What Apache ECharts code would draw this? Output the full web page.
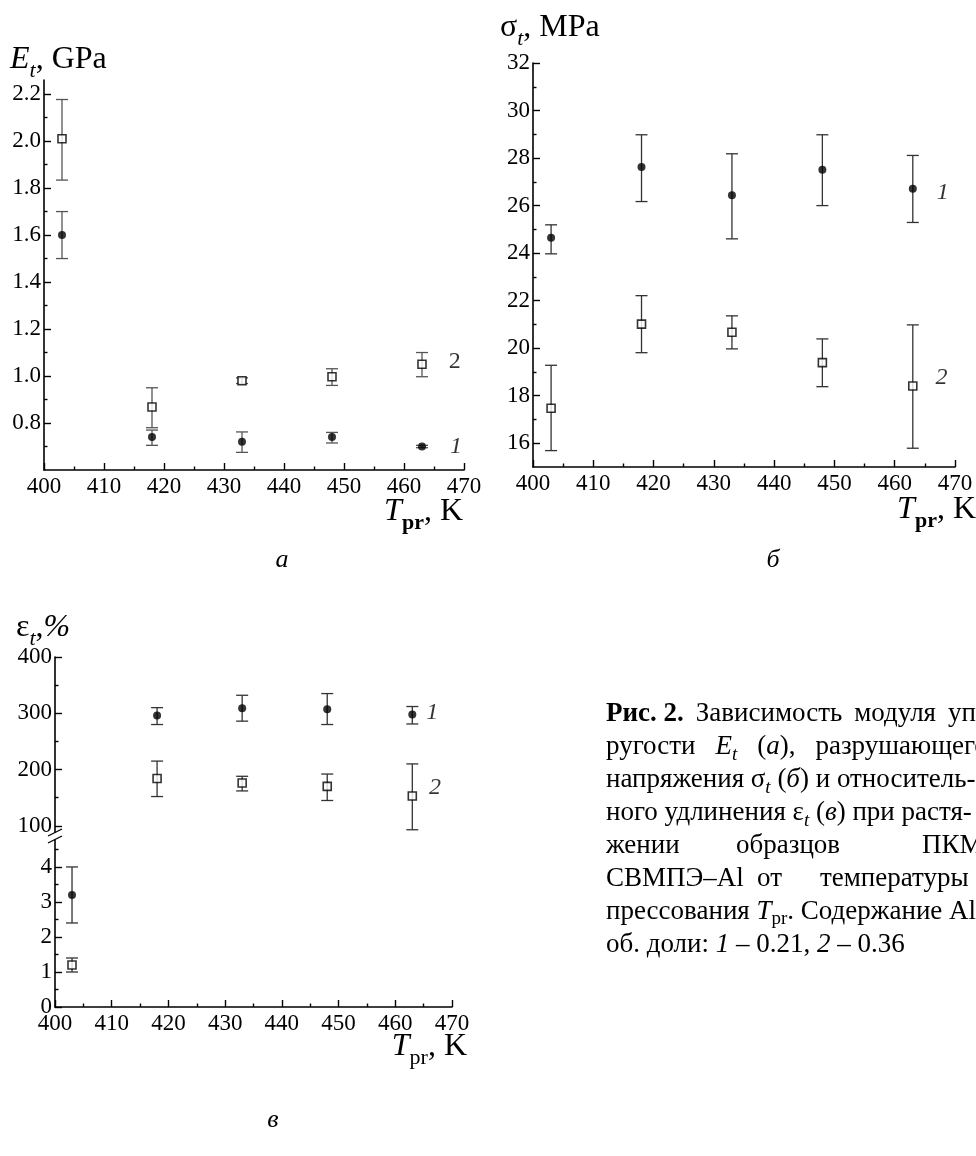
<!DOCTYPE html>
<html><head><meta charset="utf-8">
<script src="https://cdn.jsdelivr.net/npm/echarts@6.0.0/dist/echarts.min.js"></script>
<style>html,body{margin:0;padding:0;background:#fff}#c{width:976px;height:1156px}</style>
</head><body><div id="c"></div>
<script>
// ---- data ----
const temps = [403, 418, 433, 448, 463];
// (а) E_t, GPa
const E1 = [1.60, 0.74, 0.72, 0.74, 0.70];
const E1lo = [1.50, 0.705, 0.675, 0.715, 0.695];
const E1hi = [1.70, 0.77, 0.762, 0.76, 0.705];
const E2 = [2.01, 0.868, 0.98, 0.997, 1.05];
const E2lo = [1.834, 0.78, 0.968, 0.96, 0.997];
const E2hi = [2.177, 0.95, 0.992, 1.031, 1.10];
const ETicks = [0.8, 1.0, 1.2, 1.4, 1.6, 1.8, 2.0, 2.2];
const EMinor = [0.7, 0.9, 1.1, 1.3, 1.5, 1.7, 1.9, 2.1];
// (б) sigma_t, MPa
const S1 = [24.65, 27.62, 26.43, 27.51, 26.71];
const S1lo = [23.97, 26.17, 24.6, 26.0, 25.29];
const S1hi = [25.19, 28.98, 28.18, 28.98, 28.11];
const S2 = [17.47, 21.01, 20.67, 19.39, 18.41];
const S2lo = [15.69, 19.81, 19.97, 18.38, 15.79];
const S2hi = [19.28, 22.21, 21.36, 20.39, 20.98];
const STicks = [16, 18, 20, 22, 24, 26, 28, 30, 32];
const SMinor = [17, 19, 21, 23, 25, 27, 29, 31];
// (в) eps_t, %
const P1 = [3.2, 296, 309, 307, 298];
const P1lo = [2.4, 280, 286, 280, 281];
const P1hi = [4.0, 310, 332, 335, 312];
const P2 = [1.2, 184, 176, 170, 153];
const P2lo = [1.0, 152, 162, 145, 93];
const P2hi = [1.4, 215, 188, 192, 210];
const PTicksHigh = [100, 200, 300, 400];
const PMinorHigh = [150, 250, 350];
const PTicksLow = [0, 1, 2, 3, 4];
const PMinorLow = [0.5, 1.5, 2.5, 3.5, 4.5];
const seriesNames = ['1', '2'];

// ---- helpers ----
const FONT = 'Liberation Serif';
const BLACK = '#000';
const TICKFS = 23;

function xAx(gi, show) {
  return {
    type: 'value', gridIndex: gi, min: 400, max: 470, interval: 10, show: show,
    axisLine: { onZero: false, lineStyle: { color: BLACK, width: 1.6 } },
    axisTick: { inside: true, length: 7, lineStyle: { color: BLACK, width: 1.4 } },
    minorTick: { show: true, splitNumber: 2, length: 3.5, lineStyle: { color: BLACK, width: 1.4 } },
    axisLabel: { margin: 5, color: BLACK, fontFamily: FONT, fontSize: TICKFS },
    splitLine: { show: false }, minorSplitLine: { show: false }
  };
}
function yMajor(gi, min, max, ticks, fmt) {
  return {
    type: 'value', gridIndex: gi, min: min, max: max, position: 'left',
    axisLine: { show: true, onZero: false, lineStyle: { color: BLACK, width: 1.6 } },
    axisTick: { show: true, inside: true, length: 7, customValues: ticks, lineStyle: { color: BLACK, width: 1.4 } },
    axisLabel: { show: true, customValues: ticks, margin: 3, color: BLACK, fontFamily: FONT, fontSize: TICKFS, formatter: fmt },
    splitLine: { show: false }
  };
}
function yMinor(gi, min, max, ticks) {
  return {
    type: 'value', gridIndex: gi, min: min, max: max, position: 'left', offset: 0,
    axisLine: { show: false },
    axisTick: { show: true, inside: true, length: 3.5, customValues: ticks, lineStyle: { color: BLACK, width: 1.4 } },
    axisLabel: { show: false },
    splitLine: { show: false }
  };
}
function errRender(color) {
  return function (params, api) {
    const x = api.value(0), lo = api.value(1), hi = api.value(2);
    const a = api.coord([x, lo]), b = api.coord([x, hi]);
    const hw = 6;
    const st = { stroke: color, lineWidth: 1.3 };
    return {
      type: 'group', children: [
        { type: 'line', shape: { x1: a[0], y1: a[1], x2: b[0], y2: b[1] }, style: st },
        { type: 'line', shape: { x1: a[0] - hw, y1: a[1], x2: a[0] + hw, y2: a[1] }, style: st },
        { type: 'line', shape: { x1: b[0] - hw, y1: b[1], x2: b[0] + hw, y2: b[1] }, style: st }
      ]
    };
  };
}
function rows(vals, lo, hi, pred) {
  const out = [];
  temps.forEach((t, i) => { if (pred(vals[i])) out.push({ t: t, v: vals[i], lo: lo[i], hi: hi[i] }); });
  return out;
}
function errSeries(r, xi, yi, color) {
  return {
    type: 'custom', xAxisIndex: xi, yAxisIndex: yi, z: 2,
    renderItem: errRender(color), encode: { x: 0, y: [1, 2] },
    data: r.map(d => [d.t, d.lo, d.hi]), silent: true
  };
}
function ptSeries(r, xi, yi, kind, lbl, lblItalic, lblDist, lblOffY) {
  const data = r.map((d, k) => {
    if (lbl && k === r.length - 1) {
      return {
        value: [d.t, d.v],
        label: {
          show: true, formatter: lbl, position: 'right', distance: lblDist, offset: [0, lblOffY || 0],
          color: BLACK, fontFamily: FONT, fontSize: 24, fontStyle: lblItalic ? 'italic' : 'normal'
        }
      };
    }
    return [d.t, d.v];
  });
  const s = { type: 'scatter', xAxisIndex: xi, yAxisIndex: yi, z: 3, data: data, silent: true };
  if (kind === 'circle') {
    s.symbol = 'circle'; s.symbolSize = 8; s.itemStyle = { color: BLACK };
  } else {
    s.symbol = 'rect'; s.symbolSize = 8; s.itemStyle = { color: '#fff', borderColor: BLACK, borderWidth: 1.6 };
  }
  return s;
}

const all = () => true;
const hiPred = v => v >= 50;
const loPred = v => v < 50;

// ---- rich text styles ----
const R = {
  n: { fontFamily: FONT, fontSize: 32, lineHeight: 44, fill: BLACK },
  i: { fontFamily: FONT, fontSize: 32, fontStyle: 'italic', lineHeight: 44, fill: BLACK },
  s: { fontFamily: FONT, fontSize: 22, fontStyle: 'italic', lineHeight: 22, verticalAlign: 'bottom', fill: BLACK },
  sb: { fontFamily: FONT, fontSize: 22, fontWeight: 'bold', lineHeight: 22, verticalAlign: 'bottom', fill: BLACK },
  sr: { fontFamily: FONT, fontSize: 22, lineHeight: 22, verticalAlign: 'bottom', fill: BLACK },
  big: { fontFamily: FONT, fontSize: 26, fontStyle: 'italic', lineHeight: 30, fill: BLACK },
  c: { fontFamily: FONT, fontSize: 27, lineHeight: 34, fill: BLACK },
  cb: { fontFamily: FONT, fontSize: 27, fontWeight: 'bold', lineHeight: 34, fill: BLACK },
  ci: { fontFamily: FONT, fontSize: 27, fontStyle: 'italic', lineHeight: 34, fill: BLACK },
  cs: { fontFamily: FONT, fontSize: 19, fontStyle: 'italic', lineHeight: 19, verticalAlign: 'bottom', fill: BLACK },
  cr: { fontFamily: FONT, fontSize: 19, lineHeight: 19, verticalAlign: 'bottom', fill: BLACK },
  g1: { fontFamily: FONT, fontSize: 27, lineHeight: 34, width: 12 },
  g2: { fontFamily: FONT, fontSize: 27, lineHeight: 34, width: 20 }
};
function T(x, y, text, align) {
  return { type: 'text', x: x, y: y, silent: true, style: { text: text, rich: R, align: align || 'left', verticalAlign: 'middle', fill: BLACK, fontFamily: FONT, fontSize: 20 } };
}

const capX = 606, capY0 = 714, capDY = 33;
const graphics = [
  // axis titles
  T(10, 60, '{i|E}{s|t}{n|, GPa}'),
  T(500, 28, '{n|σ}{s|t}{n|, MPa}'),
  T(16, 628, '{n|ε}{s|t}{n|,}{i|%}'),
  T(463, 512, '{i|T}{sb|pr}{n|, K}', 'right'),
  T(976, 510, '{i|T}{sb|pr}{n|, K}', 'right'),
  T(467, 1047, '{i|T}{sr|pr}{n|, K}', 'right'),
  // panel letters
  T(282, 560, '{big|а}', 'center'),
  T(773, 560, '{big|б}', 'center'),
  T(273, 1120, '{big|в}', 'center'),
  // caption
  T(capX, capY0, '{cb|Рис. 2.}{g1| }{c|Зависимость}{g1| }{c|модуля}{g1| }{c|упру-}'),
  T(capX, capY0 + capDY, '{c|ругости}{g2| }{ci|E}{cs|t}{g2| }{c|(}{ci|а}{c|),}{g2| }{c|разрушающего}'),
  T(capX, capY0 + 2 * capDY, '{c|напряжения σ}{cs|t}{c| (}{ci|б}{c|) и относитель-}'),
  T(capX, capY0 + 3 * capDY, '{c|ного удлинения ε}{cs|t}{c| (}{ci|в}{c|) при растя-}'),
  T(capX, capY0 + 4 * capDY, '{c|жении}'),
  T(736, capY0 + 4 * capDY, '{c|образцов}'),
  T(922, capY0 + 4 * capDY, '{c|ПКМ}'),
  T(capX, capY0 + 5 * capDY, '{c|СВМПЭ–Al}'),
  T(757, capY0 + 5 * capDY, '{c|от}'),
  T(820, capY0 + 5 * capDY, '{c|температуры}'),
  T(capX, capY0 + 6 * capDY, '{c|прессования }{ci|T}{cr|pr}{c|. Содержание Al,}'),
  T(capX, capY0 + 7 * capDY, '{c|об. доли: }{ci|1}{c| – 0.21, }{ci|2}{c| – 0.36}'),
  // axis break marks (panel в)
  { type: 'rect', silent: true, shape: { x: 50, y: 833, width: 10, height: 6 }, style: { fill: '#fff' } },
  { type: 'line', silent: true, shape: { x1: 48, y1: 836, x2: 62, y2: 829 }, style: { stroke: BLACK, lineWidth: 1.3 } },
  { type: 'line', silent: true, shape: { x1: 48, y1: 843, x2: 62, y2: 836 }, style: { stroke: BLACK, lineWidth: 1.3 } }
];

const a1 = rows(E1, E1lo, E1hi, all), a2 = rows(E2, E2lo, E2hi, all);
const b1 = rows(S1, S1lo, S1hi, all), b2 = rows(S2, S2lo, S2hi, all);
const c1h = rows(P1, P1lo, P1hi, hiPred), c2h = rows(P2, P2lo, P2hi, hiPred);
const c1l = rows(P1, P1lo, P1hi, loPred), c2l = rows(P2, P2lo, P2hi, loPred);

const option = {
  animation: false,
  backgroundColor: '#fff',
  grid: [
    { left: 44, top: 80, width: 420, height: 390 },
    { left: 533, top: 63, width: 422, height: 404 },
    { left: 55, top: 657, width: 397, height: 175 },
    { left: 55, top: 840, width: 397, height: 167 }
  ],
  xAxis: [xAx(0, true), xAx(1, true), xAx(2, false), xAx(3, true)],
  yAxis: [
    yMajor(0, 0.6, 2.26, ETicks, v => v.toFixed(1)), yMinor(0, 0.6, 2.26, EMinor),
    yMajor(1, 15, 32, STicks, v => String(v)), yMinor(1, 15, 32, SMinor),
    yMajor(2, 89, 400, PTicksHigh, v => String(v)), yMinor(2, 89, 400, PMinorHigh),
    yMajor(3, 0, 4.77, PTicksLow, v => String(v)), yMinor(3, 0, 4.77, PMinorLow)
  ],
  graphic: graphics,
  series: [
    errSeries(a1, 0, 0, '#555'), errSeries(a2, 0, 0, '#555'),
    ptSeries(a1, 0, 0, 'circle', seriesNames[0], true, 24, 0),
    ptSeries(a2, 0, 0, 'rect', seriesNames[1], false, 22, -3),
    errSeries(b1, 1, 2, '#333'), errSeries(b2, 1, 2, '#333'),
    ptSeries(b1, 1, 2, 'circle', seriesNames[0], true, 20, 4),
    ptSeries(b2, 1, 2, 'rect', seriesNames[1], true, 18, -8),
    errSeries(c1h, 2, 4, '#333'), errSeries(c2h, 2, 4, '#333'),
    ptSeries(c1h, 2, 4, 'circle', seriesNames[0], true, 10, -2),
    ptSeries(c2h, 2, 4, 'rect', seriesNames[1], true, 12, -8),
    errSeries(c1l, 3, 6, '#333'), errSeries(c2l, 3, 6, '#333'),
    ptSeries(c1l, 3, 6, 'circle', null),
    ptSeries(c2l, 3, 6, 'rect', null)
  ]
};
const chart = echarts.init(document.getElementById('c'), null, { renderer: 'canvas' });
chart.setOption(option);
</script>
</body></html>
